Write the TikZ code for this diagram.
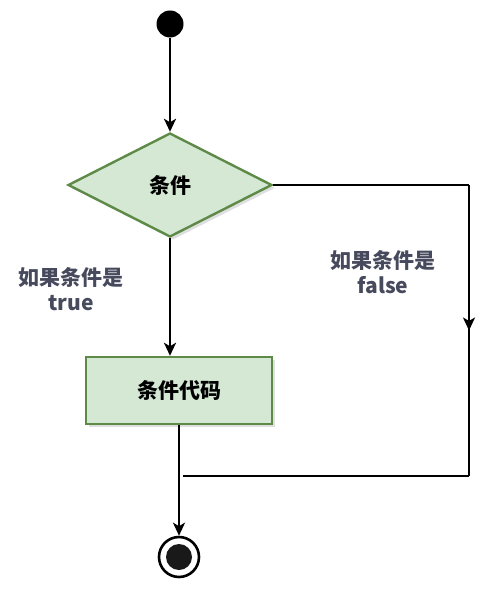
\documentclass[tikz,border=0pt]{standalone}
\usepackage{fontspec}
\newfontfamily\cjk{Noto Sans CJK SC}
\usepackage{xcolor}
\usepackage{tikz}
\usetikzlibrary{arrows.meta,decorations.markings,shapes.geometric,shadows}
\definecolor{vertFond}{HTML}{D5E8D4}
\definecolor{vertBord}{HTML}{5D8A47}
\definecolor{grisTexte}{HTML}{464A5C}
\newcommand\policeDiag{\cjk\bfseries\fontsize{21}{25}\selectfont}
\tikzset{
Fleche/.style={
 draw=black, 
 line width=2.4pt, 
 -{Stealth[length=13pt,width=12pt,inset=3.5pt]}
 },
Trait/.style={
 draw=black, 
 line width=2.4pt
 },
MFleche/.style={
 draw=black, 
 line width=2.4pt, 
 postaction={decorate}, 
 decoration={markings,mark=at position 0.5 with {\arrow{Stealth[length=13pt,width=12pt,inset=3.5pt]}}}
 },
Losange/.style={
 diamond, 
 draw=vertBord, 
 fill=vertFond, 
 line width=2.4pt, 
 minimum width=204pt, 
 minimum height=104pt, 
 inner sep=0pt, 
 drop shadow={shadow xshift=3pt,shadow yshift=-3pt,opacity=0.25}, 
 font=\policeDiag
 },
Boite/.style={
 rectangle, 
 draw=vertBord, 
 fill=vertFond, 
 line width=2.4pt, 
 minimum width=186pt, 
 minimum height=67pt, 
 inner sep=0pt, 
 drop shadow={shadow xshift=3pt,shadow yshift=-3pt,opacity=0.25}, 
 font=\policeDiag
 },
Etiquette/.style={
 text=grisTexte, 
 align=center, 
 font=\policeDiag
 }
}

\begin{document}
\begin{tikzpicture}[x=1pt,y=-1pt]
\useasboundingbox (0,0) rectangle (502,596);
\node[circle,fill=black,minimum size=27pt,inner sep=0pt] (debut) at (170,24) {};
\node[Losange] (cond) at (170,185) {条件};
\node[Boite] (code) at (179,390.5) {条件代码};
\node[circle,draw=black,line width=2.6pt,minimum size=40pt,inner sep=0pt] (fin) at (179,557) {};
\node[circle,fill=black!90,minimum size=26pt,inner sep=0pt] (finint) at (fin) {};
\node[Etiquette] (vrai) at (71,289) {如果条件是\\true};
\node[Etiquette] (faux) at (383,272) {如果条件是\\false};
\coordinate (coinH) at (469,185);
\coordinate (coinB) at (469,476);
\coordinate (retour) at (183,476);
\draw[Fleche] (debut) -- (cond.north);
\draw[Fleche] (cond.south) -- (cond.south |- code.north);
\draw[Trait] (cond.east) -- (coinH);
\draw[MFleche] (coinH) -- (coinB);
\draw[Trait] (coinB) -- (retour);
\draw[Fleche] (code.south) -- (fin.north);
\end{tikzpicture}
\end{document}
